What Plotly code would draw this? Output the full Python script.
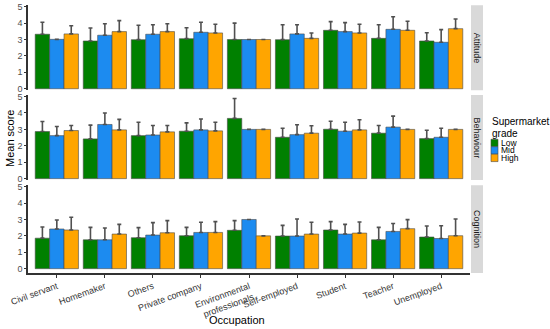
import plotly.graph_objects as go

occupations = ["Civil servant", "Homemaker", "Others", "Private company",
               "Environmental professionals", "Self-employed", "Student",
               "Teacher", "Unemployed"]
tick_labels = ["Civil servant", "Homemaker", "Others", "Private company",
               "Environmental<br>professionals", "Self-employed", "Student",
               "Teacher", "Unemployed"]
grades = ["Low", "Mid", "High"]
facets = ["Attitude", "Behaviour", "Cognition"]

attitude_low = [3.32, 2.91, 2.99, 3.05, 3.00, 2.99, 3.56, 3.07, 2.91]
attitude_mid = [3.01, 3.26, 3.32, 3.44, 3.00, 3.34, 3.48, 3.62, 2.83]
attitude_high = [3.34, 3.48, 3.48, 3.40, 3.00, 3.07, 3.40, 3.56, 3.66]
attitude_low_sd = [0.73, 0.79, 0.88, 0.67, 1.00, 0.91, 0.53, 0.83, 0.50]
attitude_mid_sd = [0.00, 0.70, 0.58, 0.61, 0.00, 0.56, 0.55, 0.77, 0.77]
attitude_high_sd = [0.50, 0.67, 0.48, 0.53, 0.00, 0.33, 0.53, 0.55, 0.59]

behaviour_low = [2.87, 2.42, 2.62, 2.89, 3.67, 2.52, 3.01, 2.77, 2.44]
behaviour_mid = [2.62, 3.30, 2.66, 2.97, 3.00, 2.68, 2.89, 3.14, 2.52]
behaviour_high = [2.93, 2.97, 2.85, 2.91, 3.00, 2.77, 2.97, 3.00, 3.00]
behaviour_low_sd = [0.61, 0.84, 0.82, 0.51, 1.21, 0.55, 0.49, 0.47, 0.51]
behaviour_mid_sd = [0.56, 0.70, 0.58, 0.66, 0.00, 0.60, 0.55, 0.67, 0.55]
behaviour_high_sd = [0.31, 0.64, 0.39, 0.53, 0.00, 0.45, 0.62, 0.00, 0.00]

cognition_low = [1.86, 1.76, 1.89, 2.01, 2.34, 1.99, 2.36, 1.76, 1.93]
cognition_mid = [2.42, 1.76, 2.05, 2.21, 3.00, 1.99, 2.11, 2.27, 1.84]
cognition_high = [2.36, 2.11, 2.19, 2.21, 2.00, 2.11, 2.17, 2.44, 2.01]
cognition_low_sd = [0.68, 0.76, 0.61, 0.51, 0.59, 0.65, 0.51, 0.76, 0.67]
cognition_mid_sd = [0.55, 0.72, 0.76, 0.62, 0.00, 1.04, 0.59, 0.48, 0.78]
cognition_high_sd = [0.78, 0.59, 0.74, 0.66, 0.00, 0.72, 0.68, 0.55, 1.02]

panel_data = [
    ([attitude_low, attitude_mid, attitude_high],
     [attitude_low_sd, attitude_mid_sd, attitude_high_sd]),
    ([behaviour_low, behaviour_mid, behaviour_high],
     [behaviour_low_sd, behaviour_mid_sd, behaviour_high_sd]),
    ([cognition_low, cognition_mid, cognition_high],
     [cognition_low_sd, cognition_mid_sd, cognition_high_sd]),
]

colors = ["#008000", "#1C8BF0", "#FFA500"]
FONT = "Liberation Sans, Arial, sans-serif"
W, H = 550, 329
L, R, T, B = 28, 80, 5, 56
PW, PH = W - L - R, H - T - B


def fy(py):
    return (H - B - py) / PH


def fx(px):
    return (px - L) / PW


# panel pixel extents (top, bottom) and y-ranges
panels_px = [(5.2, 90.2), (95.1, 180.1), (185.2, 273.0)]
yranges = [[-0.09, 5.09], [-0.09, 5.09], [-0.264, 5.09]]

fig = go.Figure()
for p, (means, sds) in enumerate(panel_data):
    xa = "x" if p == 0 else f"x{p+1}"
    ya = "y" if p == 0 else f"y{p+1}"
    for g in range(3):
        fig.add_trace(go.Bar(
            x=occupations, y=means[g], name=grades[g],
            marker=dict(color=colors[g], line=dict(color="#4a4a4a", width=0.6)),
            error_y=dict(type="data", symmetric=False, array=sds[g],
                         arrayminus=[0] * len(sds[g]), color="#505050",
                         thickness=1.6, width=2),
            xaxis=xa, yaxis=ya, showlegend=False, offsetgroup=str(g),
        ))

layout = dict(
    width=W, height=H, margin=dict(l=L, r=R, t=T, b=B, autoexpand=False),
    paper_bgcolor="white", plot_bgcolor="white",
    barmode="group", bargap=0.1, bargroupgap=0,
    font=dict(family=FONT, size=9, color="#4D4D4D"),
    showlegend=False,
)
shapes = []
annotations = []
for p in range(3):
    top, bot = panels_px[p]
    xk = "xaxis" if p == 0 else f"xaxis{p+1}"
    yk = "yaxis" if p == 0 else f"yaxis{p+1}"
    ya = "y" if p == 0 else f"y{p+1}"
    xd = dict(
        domain=[0, 1], anchor=ya, range=[-0.6, 8.6], automargin=False,
        categoryorder="array", categoryarray=occupations,
        showline=(p == 2), linecolor="#333333", linewidth=1.5,
        ticks="outside" if p == 2 else "", ticklen=3, tickcolor="#333333",
        tickvals=occupations, ticktext=tick_labels,
        showticklabels=(p == 2), tickangle=-20,
        tickfont=dict(size=9, color="#333333"),
        showgrid=False, zeroline=False,
    )
    if p > 0:
        xd["matches"] = "x"
    layout[xk] = xd
    layout[yk] = dict(
        domain=[fy(bot), fy(top)], anchor="x" if p == 0 else f"x{p+1}",
        range=yranges[p], tickvals=[0, 1, 2, 3, 4, 5], automargin=False,
        showline=True, linecolor="#333333", linewidth=1.5,
        ticks="outside", ticklen=2, tickcolor="#333333",
        tickfont=dict(size=9, color="#4D4D4D"),
        showgrid=False, zeroline=False,
    )
    # facet strip
    shapes.append(dict(type="rect", xref="paper", yref="paper",
                       x0=fx(471), x1=fx(483), y0=fy(bot), y1=fy(top),
                       fillcolor="#D9D9D9", line=dict(width=0), layer="below"))
    annotations.append(dict(text=facets[p], xref="paper", yref="paper",
                            x=fx(477), y=(fy(bot) + fy(top)) / 2,
                            xanchor="center", yanchor="middle",
                            showarrow=False, textangle=90,
                            font=dict(size=9, color="#1A1A1A")))

annotations.append(dict(text="Occupation", xref="paper", yref="paper",
                        x=fx(237), y=fy(319.5), xanchor="center", yanchor="middle",
                        showarrow=False,
                        font=dict(size=11, color="#000000")))
annotations.append(dict(text="Mean score", xref="paper", yref="paper",
                        x=fx(10), y=fy(139), xanchor="center", yanchor="middle",
                        showarrow=False, textangle=-90,
                        font=dict(size=11, color="#000000")))

# legend drawn manually
annotations.append(dict(text="Supermarket", xref="paper", yref="paper",
                        x=fx(489.5), y=fy(121.5), xanchor="left", yanchor="middle",
                        showarrow=False, font=dict(size=10, color="#000000")))
annotations.append(dict(text="grade", xref="paper", yref="paper",
                        x=fx(489.5), y=fy(133.2), xanchor="left", yanchor="middle",
                        showarrow=False, font=dict(size=10, color="#000000")))
key_tops = [139.3, 146.7, 154.2]
for g in range(3):
    y0, y1 = key_tops[g], key_tops[g] + 7.4
    shapes.append(dict(type="rect", xref="paper", yref="paper",
                       x0=fx(491), x1=fx(498), y0=fy(y1), y1=fy(y0),
                       fillcolor=colors[g], line=dict(color="#4a4a4a", width=0.6)))
    annotations.append(dict(text=grades[g], xref="paper", yref="paper",
                            x=fx(498.5), y=fy((y0 + y1) / 2), xanchor="left",
                            yanchor="middle", showarrow=False,
                            font=dict(size=8.5, color="#000000")))

layout["shapes"] = shapes
layout["annotations"] = annotations
fig.update_layout(**layout)
fig.write_html("out.html", config={"displayModeBar": False},
               post_script="document.body.style.margin='0';"
                           "document.body.style.overflow='hidden';")
